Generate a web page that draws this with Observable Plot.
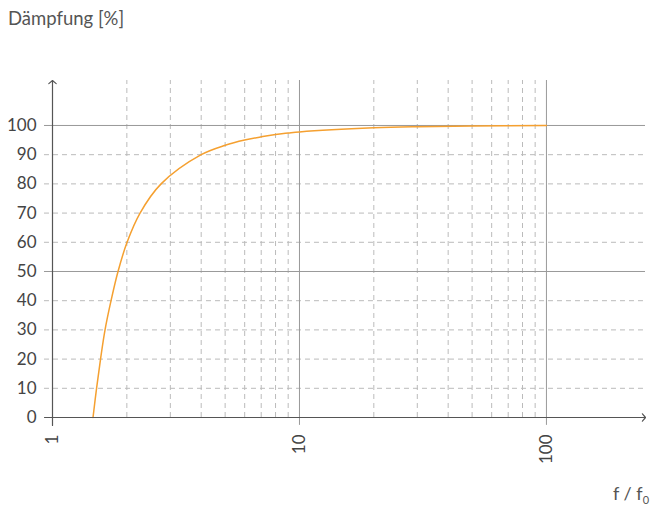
<!DOCTYPE html>
<html>
<head>
<meta charset="utf-8">
<script src="https://cdn.jsdelivr.net/npm/d3@7"></script>
<script src="https://cdn.jsdelivr.net/npm/@observablehq/plot@0.6"></script>
<style>
  html, body { margin: 0; padding: 0; background: #fff; }
  #wrap { position: relative; width: 651px; height: 508px; font-family: Lato, "Open Sans", sans-serif; color: #555; }
  #title { position: absolute; left: 8px; top: 7px; font-size: 18.5px; color: #555; }
  #xlabel { position: absolute; left: 613px; top: 482px; font-size: 18px; color: #555; white-space: nowrap; }
  #xlabel sub { font-size: 11px; vertical-align: -4px; }
  #chart { position: absolute; left: 0; top: 0; }
</style>
</head>
<body>
<div id="wrap">
  <div id="chart"></div>
  <div id="title">Dämpfung [%]</div>
  <div id="xlabel">f / f<sub>0</sub></div>
</div>
<script>
// Frequency ratio f/f0 and damping (%)
const ratio =   [1.459, 1.508, 1.565, 1.632, 1.726, 1.842, 2.004, 2.262, 2.752, 4.0,  5.0,  6.0,  7.0,  8.0,  9.0,  10,   20,   30,   50,    100];
const damping = [0,     10,    20,    30,    40,    50,    60,    70,    80,    90.0, 93.2, 95.0, 96.1, 96.9, 97.4, 97.8, 99.2, 99.6, 99.85, 100];

const yTicks = [0, 10, 20, 30, 40, 50, 60, 70, 80, 90, 100];
const yGridSolid = [50, 100];
const yGridDashed = [10, 20, 30, 40, 60, 70, 80, 90];
const xTicks = [1, 10, 100];
const xGridSolid = [10, 100];
const xGridDashed = [2, 3, 4, 5, 6, 7, 8, 9, 20, 30, 40, 50, 60, 70, 80, 90];

const xMax = 251.8, yMax = 115.4, xLeft = 0.928, yLow = -2.7;

const data = ratio.map((r, i) => ({r, d: damping[i]}));

const chart = Plot.plot({
  width: 651,
  height: 508,
  marginLeft: 52,
  marginRight: 6,
  marginTop: 80,
  marginBottom: 91,
  style: {fontFamily: "Lato, 'Open Sans', sans-serif", background: "transparent"},
  x: {type: "log", domain: [1, xMax], axis: null},
  y: {domain: [0, yMax], axis: null},
  marks: [
    Plot.ruleY(yGridDashed, {x1: xLeft, x2: xMax, stroke: "#bbb", strokeDasharray: "5,4", strokeWidth: 1}),
    Plot.ruleX(xGridDashed, {y1: 0, y2: yMax, stroke: "#bbb", strokeDasharray: "5,4", strokeWidth: 1}),
    Plot.ruleY(yGridSolid, {x1: xLeft, x2: xMax, stroke: "#999", strokeWidth: 1}),
    Plot.ruleX(xGridSolid, {y1: yLow, y2: yMax, stroke: "#999", strokeWidth: 1}),
    Plot.line(data, {x: "r", y: "d", curve: "catmull-rom", stroke: "#f5a030", strokeWidth: 1.5}),
    Plot.arrow([0], {x1: xLeft, y1: 0, x2: xMax, y2: 0, stroke: "#555", strokeWidth: 1.2, headLength: 6, headAngle: 100}),
    Plot.arrow([0], {x1: 1, y1: yLow, x2: 1, y2: yMax, stroke: "#555", strokeWidth: 1.2, headLength: 6, headAngle: 100}),
    Plot.text(yTicks, {y: d => d, text: d => String(d), frameAnchor: "left", textAnchor: "end", dx: -16, fontSize: 17, fill: "#444"}),
    Plot.text(xTicks, {x: d => d, text: d => String(d), frameAnchor: "bottom", rotate: -90, textAnchor: "end", lineAnchor: "middle", dy: 17, fontSize: 17, fill: "#444"})
  ]
});
document.getElementById("chart").appendChild(chart);
</script>
</body>
</html>
